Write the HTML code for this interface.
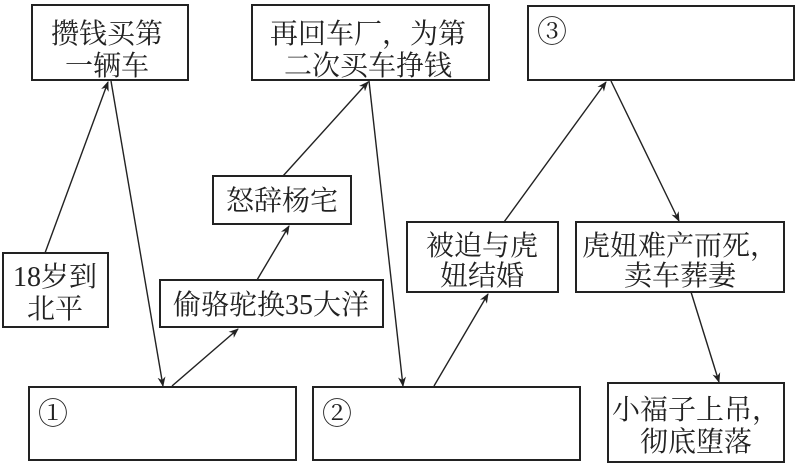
<!DOCTYPE html>
<html><head><meta charset="utf-8"><style>
html,body{margin:0;padding:0;background:#fff;}
svg{display:block}
text{font-family:"Liberation Serif","Noto Serif CJK SC",serif;font-size:28px;fill:#222;}
text.c{font-family:"Noto Serif CJK SC","DejaVu Serif",serif;font-size:30px;}
rect{fill:none;stroke:#222;stroke-width:2}
line{stroke:#222;stroke-width:1.4}
</style></head><body>
<svg width="796" height="467" viewBox="0 0 796 467">
<defs><marker id="a" markerWidth="10" markerHeight="10" refX="9" refY="5" orient="auto" markerUnits="userSpaceOnUse"><path d="M0,1 L10,5 L0,9 L3,5z" fill="#222"/></marker></defs>
<rect x="32" y="5" width="156" height="75"/>
<text x="107" y="43" text-anchor="middle">攒钱买第</text>
<text x="107" y="75" text-anchor="middle">一辆车</text>
<rect x="252" y="5" width="237" height="75"/>
<text x="368" y="43" text-anchor="middle">再回车厂，为第</text>
<text x="368" y="75" text-anchor="middle">二次买车挣钱</text>
<rect x="528" y="6" width="266" height="74"/>
<text class="c" x="537" y="42">③</text>
<rect x="213" y="176" width="138" height="48"/>
<text x="282" y="210" text-anchor="middle">怒辞杨宅</text>
<rect x="3" y="253" width="105" height="74"/>
<text x="55" y="286" text-anchor="middle">18岁到</text>
<text x="55" y="318" text-anchor="middle">北平</text>
<rect x="160" y="280" width="223" height="47"/>
<text x="271" y="314" text-anchor="middle">偷骆驼换35大洋</text>
<rect x="29" y="387" width="267" height="73"/>
<text class="c" x="38" y="424">①</text>
<rect x="313" y="387" width="267" height="73"/>
<text class="c" x="322" y="424">②</text>
<rect x="407" y="222" width="151" height="70"/>
<text x="482" y="255" text-anchor="middle">被迫与虎</text>
<text x="482" y="285" text-anchor="middle">妞结婚</text>
<rect x="576" y="222" width="208" height="70"/>
<text x="680" y="255" text-anchor="middle">虎妞难产而死，</text>
<text x="680" y="285" text-anchor="middle">卖车葬妻</text>
<rect x="608" y="383" width="176" height="79"/>
<text x="696" y="419" text-anchor="middle">小福子上吊，</text>
<text x="696" y="451" text-anchor="middle">彻底堕落</text>
<line x1="45" y1="253" x2="108" y2="82" marker-end="url(#a)"/>
<line x1="111" y1="81" x2="163" y2="386" marker-end="url(#a)"/>
<line x1="172" y1="386" x2="238" y2="329" marker-end="url(#a)"/>
<line x1="257" y1="280" x2="289" y2="226" marker-end="url(#a)"/>
<line x1="283" y1="176" x2="368" y2="82" marker-end="url(#a)"/>
<line x1="369" y1="81" x2="403" y2="386" marker-end="url(#a)"/>
<line x1="434" y1="386" x2="488" y2="294" marker-end="url(#a)"/>
<line x1="504" y1="222" x2="606" y2="82" marker-end="url(#a)"/>
<line x1="611" y1="81" x2="679" y2="221" marker-end="url(#a)"/>
<line x1="691" y1="292" x2="719" y2="382" marker-end="url(#a)"/>
</svg>
</body></html>
